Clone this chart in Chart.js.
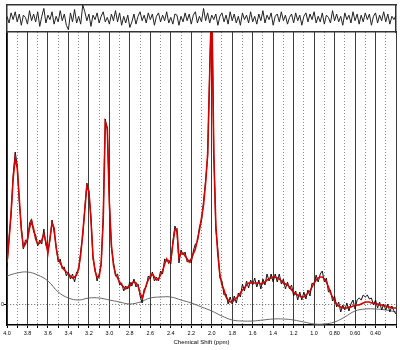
<!DOCTYPE html>
<html><head><meta charset="utf-8">
<script src="https://cdn.jsdelivr.net/npm/chart.js@4.4.1/dist/chart.umd.min.js"></script>
<style>
html,body{margin:0;padding:0;background:#fff;}
#wrap{position:relative;width:400px;height:350px;overflow:hidden;}
#wrap canvas{position:absolute;left:0;top:0;}
</style>
</head><body>
<div id="wrap"><canvas id="main" width="400" height="350"></canvas><canvas id="resid" width="400" height="350"></canvas></div>
<script>
// sampling grid of the spectrum (ppm, descending)
const ppmStart = 4.0;
const ppmStep = 0.02;

// fitted spectrum (red)
const fitValues = [
  41,64,92,125,146,136,105,74,57,60,
  65,76,83,75,65,60,61,64,70,62,
  51,66,81,76,56,45,41,37,34,32,
  30,28,26,27,29,36,49,71,94,118,
  113,84,48,33,27,27,41,84,182,176,
  100,59,39,30,26,22,19,17,15,17,
  18,21,22,21,18,11,6,12,19,24,
  28,30,27,24,25,29,33,40,45,41,
  44,60,74,75,46,51,51,48,45,42,
  45,50,55,64,74,86,99,121,150,230,
  310,150,79,49,29,19,14,7,4,2,
  2,4,6,8,11,14,16,19,21,21,
  21,21,21,21,20,21,22,24,25,26,
  27,27,26,25,23,21,20,19,17,14,
  12,10,9,8,7,7,9,11,13,17,
  21,24,26,27,27,25,22,17,11,7,
  3,0,-2,-3,-4,-4,-4,-3,-3,-2,
  -2,-1,-1,0,1,2,2,2,1,1,
  0,0,-1,-1,-2,-2,-3,-3,-4,-4,
  -4
];

// measured spectrum (black, noisy)
const dataValues = [
  37,66,89,129,152,139,103,77,55,64,
  62,81,85,72,69,58,64,60,75,59,
  53,64,84,72,58,42,45,35,37,28,
  32,25,30,22,32,34,53,68,96,121,
  111,88,45,35,23,30,39,88,185,174,
  104,56,42,28,30,19,21,13,18,15,
  22,18,25,17,20,8,1,15,17,28,
  25,32,23,27,23,33,30,45,43,44,
  40,62,78,72,41,54,49,52,42,44,
  41,53,60,62,77,83,103,123,147,234,
  310,153,75,54,26,23,9,10,0,7,
  0,8,1,11,7,20,13,23,16,24,
  19,26,17,24,15,25,19,30,23,30,
  22,30,22,30,20,25,15,22,15,19,
  8,13,4,12,4,12,5,14,8,21,
  19,29,22,30,33,22,26,12,14,3,
  8,-3,2,-8,-1,-6,1,-7,0,4,
  -5,4,6,4,9,7,9,5,6,-1,
  4,-4,2,-6,0,-6,0,-8,-2,-7,
  -10
];

// residual (top panel)
const residualValues = [
  2,-4,5,-1,6,-3,4,-6,3,1,
  -5,7,-2,4,-3,6,-7,2,9,-4,
  3,-1,6,-5,2,-3,7,-2,4,-6,
  -10,5,-3,8,-4,2,-5,12,6,-2,
  4,-7,3,-1,5,-4,2,6,-3,1,
  -5,4,-2,7,-3,5,-6,2,-4,3,
  -8,-3,4,-5,2,6,-2,3,-4,5,
  -1,4,-6,2,5,-3,3,-2,6,-4,
  1,-5,4,3,-6,2,-3,5,-2,4,
  -5,3,6,-4,2,-3,9,-2,5,-4,
  3,-1,4,-6,2,5,-3,3,-5,6,
  -2,4,-4,2,-6,5,-1,3,-4,6,
  -3,2,-5,4,-2,7,-4,3,-1,5,
  -6,2,4,-3,6,-2,3,-5,1,4,
  -4,5,-2,3,-6,2,5,-3,4,-1,
  6,-4,2,-3,5,-5,3,1,-4,7,
  -2,4,-3,2,-6,5,-1,3,-4,6,
  -2,4,-5,3,-3,5,-1,4,-6,2,
  5,-4,3,-2,6,-3,4,-5,2,-1,
  3
];

// smooth baseline (gray)
const baselinePpm = [4.0,3.9,3.8,3.7,3.6,3.5,3.4,3.3,3.2,3.1,3.0,2.9,2.8,2.7,2.6,2.5,2.4,2.3,2.2,2.1,2.0,1.9,1.8,1.7,1.6,1.5,1.4,1.3,1.2,1.1,1.0,0.9,0.8,0.7,0.6,0.5,0.4,0.3,0.2];
const baselineValues = [28,31,32,29,23,12,6,4,6,6,4,2,0,2,6,7,7,4,1,-3,-7,-12,-16,-17,-17,-16,-15,-15,-16,-18,-20,-20,-18,-13,-7,-5,-5,-6,-8];

// axis ticks
const majorTicks = [4.0,3.8,3.6,3.4,3.2,3.0,2.8,2.6,2.4,2.2,2.0,1.8,1.6,1.4,1.2,1.0,0.8,0.6,0.4,0.2];
const majorLabels = ['4.0','3.8','3.6','3.4','3.2','3.0','2.8','2.6','2.4','2.2','2.0','1.8','1.6','1.4','1.2','1.0','0.80','0.60','0.40',''];
const minorTicks = [3.9,3.7,3.5,3.3,3.1,2.9,2.7,2.5,2.3,2.1,1.9,1.7,1.5,1.3,1.1,0.9,0.7,0.5,0.3];
const yTickValues = [0];
const yTickLabels = ['0'];

const ppmAt = i => Math.round((ppmStart - i * ppmStep) * 100) / 100;
const toPts = arr => arr.map((v, i) => ({x: ppmAt(i), y: v}));
const majorIndex = v => majorTicks.findIndex(m => Math.abs(m - v) < 1e-6);

Chart.defaults.font.family = "'Liberation Sans', Arial, sans-serif";

new Chart(document.getElementById('main'), {
  type: 'line',
  data: {
    datasets: [
      {label: 'fit', data: toPts(fitValues), borderColor: '#d40000', borderWidth: 1.6, pointRadius: 0, order: 0},
      {label: 'data', data: toPts(dataValues), borderColor: '#111', borderWidth: 1, pointRadius: 0, order: 1},
      {label: 'baseline', data: baselinePpm.map((p, i) => ({x: p, y: baselineValues[i]})), borderColor: '#666', borderWidth: 1, pointRadius: 0, tension: 0.4, order: 2}
    ]
  },
  options: {
    responsive: false, animation: false, devicePixelRatio: 1,
    layout: {padding: {left: 0, right: 4, top: 32, bottom: 0}},
    plugins: {legend: {display: false}, tooltip: {enabled: false}},
    scales: {
      x: {
        type: 'linear', reverse: true, min: 0.2, max: 4.0,
        afterBuildTicks: s => { s.ticks = majorTicks.concat(minorTicks).sort((a, b) => b - a).map(v => ({value: v})); },
        afterFit: s => { s.height = 25; },
        ticks: {autoSkip: false, maxRotation: 0, minRotation: 0, padding: 2, color: '#000', font: {size: 5.5},
          callback: v => { const k = majorIndex(v); return k >= 0 ? majorLabels[k] : ''; }},
        grid: {
          color: c => (c.tick && majorIndex(c.tick.value) >= 0) ? '#3c3c3c' : '#8c8c8c',
          lineWidth: 1, drawTicks: true, tickLength: 3, tickColor: '#000'
        },
        border: {display: true, color: '#000', width: 1.5, dash: c => (c.tick && majorIndex(c.tick.value) < 0) ? [1, 2] : []},
        title: {display: true, text: 'Chemical Shift (ppm)', color: '#000', font: {size: 6}, padding: {top: 0, bottom: 4}}
      },
      y: {
        min: -21, max: 272,
        afterBuildTicks: s => { s.ticks = yTickValues.map(v => ({value: v})); },
        afterFit: s => { s.width = 7; },
        ticks: {padding: 0, color: '#000', font: {size: 5.5}, callback: (v, i) => yTickLabels[i]},
        grid: {color: '#666', lineWidth: 1, drawTicks: true, tickLength: 3, tickColor: '#000'},
        border: {display: true, color: '#000', width: 1.2, dash: [1, 2]}
      }
    }
  }
});

const hiddenAxis = (pos, extra) => Object.assign({
  position: pos,
  ticks: {display: false},
  grid: {display: false, drawTicks: false},
  border: {display: true, color: '#333', width: 1.5}
}, extra);

new Chart(document.getElementById('resid'), {
  type: 'line',
  data: {
    datasets: [
      {label: 'residual', data: toPts(residualValues), borderColor: '#222', borderWidth: 1, pointRadius: 0, xAxisID: 'x', yAxisID: 'y'}
    ]
  },
  options: {
    responsive: false, animation: false, devicePixelRatio: 1,
    layout: {padding: {left: 7, right: 4, top: 5, bottom: 318}},
    plugins: {legend: {display: false}, tooltip: {enabled: false}},
    scales: {
      x: hiddenAxis('bottom', {type: 'linear', reverse: true, min: 0.2, max: 4.0, afterFit: s => { s.height = 0; }}),
      xt: hiddenAxis('top', {type: 'linear', reverse: true, min: 0.2, max: 4.0, afterFit: s => { s.height = 0; }}),
      y: hiddenAxis('left', {min: -12, max: 12, afterFit: s => { s.width = 0; }}),
      yr: hiddenAxis('right', {min: -12, max: 12, afterFit: s => { s.width = 0; }})
    }
  }
});
</script>
</body></html>
